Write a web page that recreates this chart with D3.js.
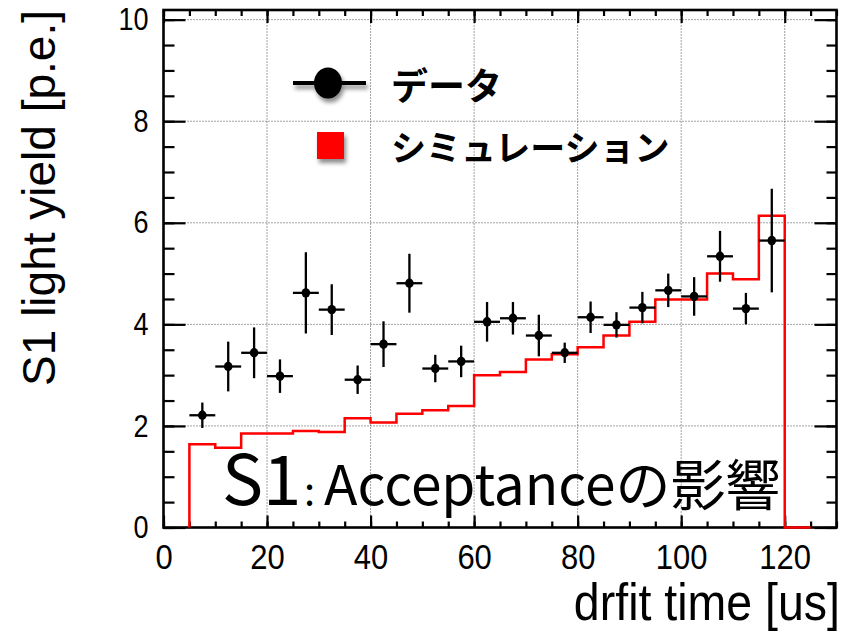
<!DOCTYPE html>
<html>
<head>
<meta charset="utf-8">
<script src="https://cdn.jsdelivr.net/npm/d3@7"></script>
<style>
  html, body { margin: 0; padding: 0; background: #fff; }
  svg { display: block; }
</style>
</head>
<body>
<svg id="chart" width="851" height="632"></svg>
<script>
// ---- data ----
// simulation histogram: 5 us bins, lower edges and mean S1 yield
const simBinLow = [5, 10, 15, 20, 25, 30, 35, 40, 45, 50, 55, 60, 65, 70, 75, 80, 85, 90, 95, 100, 105, 110, 115, 120];
const simYield  = [1.64, 1.57, 1.85, 1.85, 1.90, 1.88, 2.15, 2.07, 2.24, 2.31, 2.39, 3.00, 3.06, 3.31, 3.41, 3.55, 3.78, 4.05, 4.49, 4.49, 5.00, 4.89, 6.14, 0];
const simBinWidth = 5;

// measured points: bin centres, mean yield, vertical error
const dataTime  = [7.5, 12.5, 17.5, 22.5, 27.5, 32.5, 37.5, 42.5, 47.5, 52.5, 57.5, 62.5, 67.5, 72.5, 77.5, 82.5, 87.5, 92.5, 97.5, 102.5, 107.5, 112.5, 117.5];
const dataYield = [2.21, 3.17, 3.44, 2.98, 4.62, 4.29, 2.91, 3.61, 4.81, 3.13, 3.27, 4.05, 4.12, 3.78, 3.44, 4.14, 3.99, 4.33, 4.67, 4.55, 5.34, 4.31, 5.65];
const dataErr   = [0.25, 0.49, 0.50, 0.33, 0.80, 0.50, 0.28, 0.45, 0.58, 0.27, 0.31, 0.39, 0.32, 0.41, 0.20, 0.31, 0.25, 0.31, 0.33, 0.38, 0.50, 0.31, 1.02];

// axis ticks
const xMajorTicks = [0, 20, 40, 60, 80, 100, 120];
const xMinorTicks = d3.range(0, 131, 5);
const yMajorTicks = [0, 2, 4, 6, 8, 10];
const yMinorTicks = d3.range(0, 10.01, 0.5);

const legendLabels = ["データ", "シミュレーション"];
const xTitle = "drfit time [us]";
const yTitle = "S1 light yield [p.e.]";

// ---- layout ----
const svg = d3.select("#chart");
const x = d3.scaleLinear().domain([0, 130]).range([163.5, 836.5]);
const y = d3.scaleLinear().domain([0, 10.19]).range([527.5, 10]);
const [x0, x1] = x.range();
const [y0, y1] = y.range();

const defs = svg.append("defs");
const shadow = defs.append("filter").attr("id", "shadow")
  .attr("x", "-50%").attr("y", "-50%").attr("width", "200%").attr("height", "200%");
shadow.append("feDropShadow").attr("dx", 2).attr("dy", 4)
  .attr("stdDeviation", 2.2).attr("flood-color", "#000").attr("flood-opacity", 0.45);

// grid
const grid = svg.append("g").attr("stroke", "#444").attr("stroke-width", 1)
  .attr("stroke-dasharray", "1,2").attr("fill", "none");
grid.selectAll("line.gx").data(xMajorTicks.filter(d => d > 0)).join("line")
  .attr("x1", d => x(d)).attr("x2", d => x(d)).attr("y1", y0).attr("y2", y1);
grid.selectAll("line.gy").data(yMajorTicks.filter(d => d > 0)).join("line")
  .attr("x1", x0).attr("x2", x1).attr("y1", d => y(d)).attr("y2", d => y(d));

// frame axes: major + minor ticks on all four sides
function styleAxis(g) {
  g.select(".domain").remove();
  g.selectAll(".tick line").attr("stroke", "#000").attr("stroke-width", 2.2);
}
svg.append("g").attr("transform", `translate(${x0},0)`)
  .call(d3.axisLeft(y).tickValues(yMinorTicks).tickSizeInner(-11).tickSizeOuter(0).tickFormat(""))
  .call(styleAxis);
svg.append("g").attr("transform", `translate(${x1},0)`)
  .call(d3.axisRight(y).tickValues(yMinorTicks).tickSizeInner(-10).tickSizeOuter(0).tickFormat(""))
  .call(styleAxis);
svg.append("g").attr("transform", `translate(${x1},0)`)
  .call(d3.axisRight(y).tickValues(yMajorTicks).tickSizeInner(-22).tickSizeOuter(0).tickFormat(""))
  .call(styleAxis);
const yAxis = svg.append("g").attr("transform", `translate(${x0},0)`)
  .call(d3.axisLeft(y).tickValues(yMajorTicks).tickSizeInner(-22).tickSizeOuter(0).tickPadding(15).tickFormat(d3.format("d")))
  .call(styleAxis);
yAxis.selectAll(".tick text")
  .attr("font-family", "'Liberation Sans', Arial, sans-serif").attr("font-size", 27)
  .attr("fill", "#000").attr("transform", "scale(1,1.14)").attr("dy", "0.33em");

svg.append("g").attr("transform", `translate(0,${y0})`)
  .call(d3.axisBottom(x).tickValues(xMinorTicks).tickSizeInner(-6).tickSizeOuter(0).tickFormat(""))
  .call(styleAxis);
svg.append("g").attr("transform", `translate(0,${y1})`)
  .call(d3.axisTop(x).tickValues(xMinorTicks).tickSizeInner(-6).tickSizeOuter(0).tickFormat(""))
  .call(styleAxis);
svg.append("g").attr("transform", `translate(0,${y1})`)
  .call(d3.axisTop(x).tickValues(xMajorTicks).tickSizeInner(-13).tickSizeOuter(0).tickFormat(""))
  .call(styleAxis);
const xAxis = svg.append("g").attr("transform", `translate(0,${y0})`)
  .call(d3.axisBottom(x).tickValues(xMajorTicks).tickSizeInner(-12).tickSizeOuter(0).tickPadding(15).tickFormat(d3.format("d")))
  .call(styleAxis);
xAxis.selectAll(".tick text")
  .attr("font-family", "'Liberation Sans', Arial, sans-serif").attr("font-size", 31)
  .attr("fill", "#000").attr("transform", "scale(1,1.12)");

svg.append("rect").attr("x", x0).attr("y", y1).attr("width", x1 - x0).attr("height", y0 - y1)
  .attr("fill", "none").attr("stroke", "#000").attr("stroke-width", 2.6);

// simulation histogram outline
const simPts = [[simBinLow[0], 0]];
simBinLow.forEach((lo, i) => {
  simPts.push([lo, simYield[i]]);
  simPts.push([lo + simBinWidth, simYield[i]]);
});
svg.append("path")
  .attr("d", d3.line().x(d => x(d[0])).y(d => y(d[1]))(simPts))
  .attr("fill", "none").attr("stroke", "#ff0000").attr("stroke-width", 2.5)
  .attr("stroke-linejoin", "miter");

// measured points with error bars
const pts = svg.append("g").selectAll("g").data(dataTime.map((t, i) => ({ t, v: dataYield[i], e: dataErr[i] })))
  .join("g");
pts.append("line")
  .attr("x1", d => x(d.t)).attr("x2", d => x(d.t))
  .attr("y1", d => y(d.v - d.e)).attr("y2", d => y(d.v + d.e))
  .attr("stroke", "#000").attr("stroke-width", 2.3);
pts.append("line")
  .attr("x1", d => x(d.t - simBinWidth / 2)).attr("x2", d => x(d.t + simBinWidth / 2))
  .attr("y1", d => y(d.v)).attr("y2", d => y(d.v))
  .attr("stroke", "#000").attr("stroke-width", 2.3);
pts.append("ellipse")
  .attr("cx", d => x(d.t)).attr("cy", d => y(d.v)).attr("rx", 4.3).attr("ry", 4.7)
  .attr("fill", "#000");

// legend
const leg = svg.append("g");
leg.append("g").attr("filter", "url(#shadow)").call(g => {
  g.append("line").attr("x1", 293).attr("x2", 366).attr("y1", 83).attr("y2", 83)
    .attr("stroke", "#000").attr("stroke-width", 4);
  g.append("ellipse").attr("cx", 328).attr("cy", 83).attr("rx", 14).attr("ry", 15.5).attr("fill", "#000");
});
leg.append("rect").attr("x", 317).attr("y", 132).attr("width", 27).attr("height", 27)
  .attr("fill", "#ff0000").attr("filter", "url(#shadow)");
leg.append("text").attr("x", 391).attr("y", 84).attr("dominant-baseline", "central")
  .attr("font-family", "'Noto Sans CJK JP', sans-serif").attr("font-weight", 700)
  .attr("font-size", 37).attr("fill", "#000").text(legendLabels[0]);
leg.append("text").attr("x", 391).attr("y", 145).attr("dominant-baseline", "central")
  .attr("font-family", "'Noto Sans CJK JP', sans-serif").attr("font-weight", 700)
  .attr("font-size", 35).attr("fill", "#000").text(legendLabels[1]);

// annotation
const note = svg.append("text").attr("y", 505)
  .attr("font-family", "'Noto Sans CJK JP', sans-serif").attr("font-weight", 400).attr("fill", "#000");
note.append("tspan").attr("x", 222).attr("font-size", 69).text("S1");
note.append("tspan").attr("x", 304).attr("font-size", 40).text(":");
note.append("tspan").attr("x", 324).attr("font-size", 55).text("Acceptanceの影響");

// axis titles
svg.append("text").attr("transform", "translate(840,620) scale(1,1.1)")
  .attr("text-anchor", "end")
  .attr("font-family", "'Liberation Sans', Arial, sans-serif").attr("font-size", 46.5)
  .attr("fill", "#000").text(xTitle);
svg.append("text").attr("transform", "translate(55,10) rotate(-90)")
  .attr("text-anchor", "end")
  .attr("font-family", "'Liberation Sans', Arial, sans-serif").attr("font-size", 46)
  .attr("fill", "#000").text(yTitle);
</script>
</body>
</html>
